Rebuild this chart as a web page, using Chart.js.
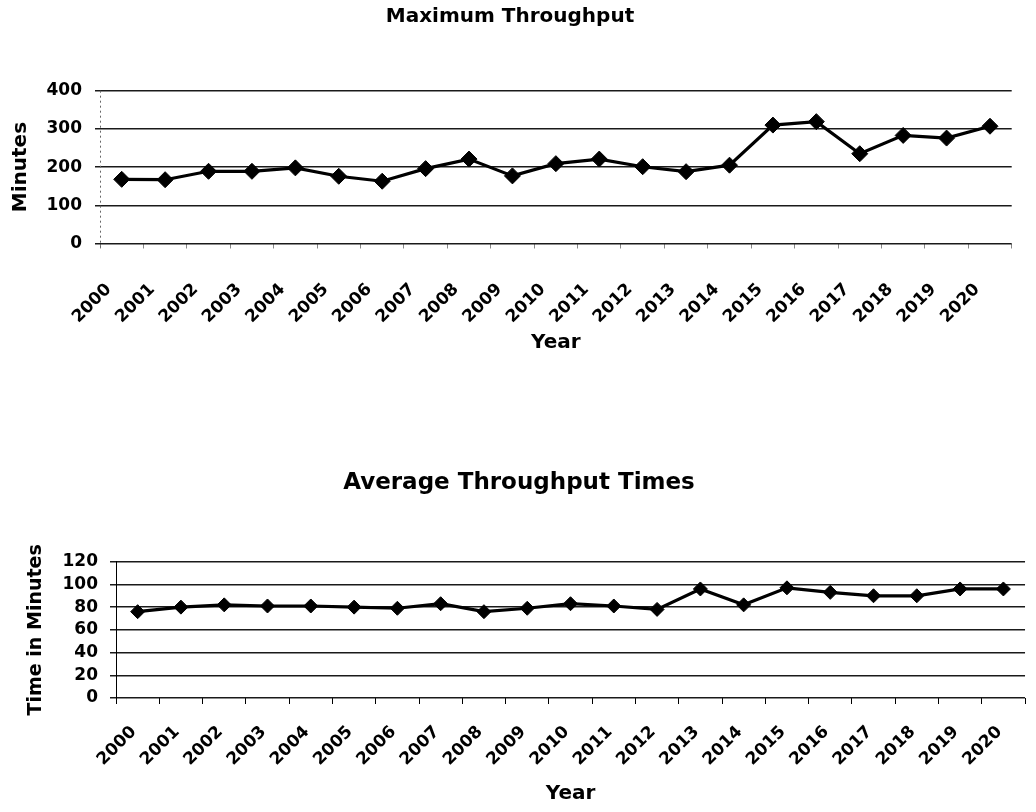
<!DOCTYPE html>
<html><head><meta charset="utf-8">
<script src="https://cdn.jsdelivr.net/npm/chart.js@4.4.1/dist/chart.umd.min.js"></script>
<style>
html,body{margin:0;padding:0;background:#fff;width:1036px;height:812px;overflow:hidden;}
canvas{position:absolute;left:0;}
#c1{top:0px;}
#c2{top:400px;}
</style></head><body>
<canvas id="c1" width="1036" height="370"></canvas>
<canvas id="c2" width="1036" height="412"></canvas>
<script>
const years = ['2000','2001','2002','2003','2004','2005','2006','2007','2008','2009','2010','2011','2012','2013','2014','2015','2016','2017','2018','2019','2020'];
const maxThroughput = [168, 167, 189, 189, 198, 176, 163, 196, 221, 177, 209, 221, 201, 188, 205, 310, 319, 235, 283, 276, 307];
const avgThroughputTimes = [76, 80, 82, 81, 81, 80, 79, 83, 76, 79, 83, 81, 78, 96, 82, 97, 93, 90, 90, 96, 96];
const maxTickValues = [0, 100, 200, 300, 400];
const avgTickValues = [0, 20, 40, 60, 80, 100, 120];

Chart.defaults.font.family = "'DejaVu Sans', sans-serif";
Chart.defaults.color = '#000';

// dotted vertical axis line at the left edge of the plot area
const dottedAxis = {
  id: 'dottedAxis',
  afterDatasetsDraw(chart, args, opts) {
    if (!opts.enabled) return;
    const { ctx, chartArea } = chart;
    ctx.save();
    ctx.strokeStyle = '#666';
    ctx.lineWidth = 1;
    ctx.setLineDash([2, 3]);
    ctx.beginPath();
    ctx.moveTo(chartArea.left + 0.5, chartArea.top);
    ctx.lineTo(chartArea.left + 0.5, chartArea.bottom + 6);
    ctx.stroke();
    ctx.restore();
  }
};

function makeChart(id, cfg) {
  return new Chart(document.getElementById(id), {
    type: 'line',
    data: {
      labels: years,
      datasets: [{
        data: cfg.values,
        borderColor: '#000',
        borderWidth: 3.2,
        pointStyle: 'rectRot',
        pointRadius: cfg.pointRadius,
        pointBackgroundColor: '#000',
        pointBorderColor: '#000',
        pointBorderWidth: 1,
        tension: 0,
        fill: false
      }]
    },
    plugins: [dottedAxis],
    options: {
      responsive: false,
      animation: false,
      devicePixelRatio: 1,
      layout: { padding: cfg.layoutPadding },
      plugins: {
        legend: { display: false },
        tooltip: { enabled: false },
        dottedAxis: { enabled: cfg.dotted },
        title: {
          display: true,
          text: cfg.title,
          color: '#000',
          font: { size: cfg.titleSize, weight: 'bold' },
          padding: cfg.titlePadding
        }
      },
      scales: {
        x: {
          type: 'category',
          offset: true,
          grid: { display: true, drawOnChartArea: false, offset: true, tickLength: cfg.xTickLen, color: cfg.xTickColor, lineWidth: 1 },
          border: { display: false },
          ticks: { font: { size: 17, weight: 'bold' }, color: '#000', minRotation: 45, maxRotation: 45, autoSkip: false, padding: cfg.xPad, labelOffset: cfg.xLabelOffset },
          title: { display: true, text: 'Year', color: '#000', font: { size: 20, weight: 'bold' }, padding: { top: 0, bottom: 0 } },
          afterFit: s => { s.height = cfg.xHeight; }
        },
        y: {
          min: cfg.ticks[0],
          max: cfg.ticks[cfg.ticks.length - 1],
          afterBuildTicks: s => { s.ticks = cfg.ticks.map(v => ({ value: v })); },
          grid: { color: '#1a1a1a', lineWidth: 1.5, tickLength: cfg.yTickLen },
          border: { display: !cfg.dotted, color: '#000', width: 1 },
          ticks: { font: { size: 17, weight: 'bold' }, color: '#000', padding: cfg.yPad, autoSkip: false },
          title: { display: true, text: cfg.yTitle, color: '#000', font: { size: cfg.yTitleSize, weight: 'bold' }, padding: { top: cfg.yTitlePad, bottom: 0 } },
          afterFit: s => { s.width = cfg.yWidth; }
        }
      }
    }
  });
}

makeChart('c1', {
  values: maxThroughput,
  ticks: maxTickValues,
  title: 'Maximum Throughput',
  titleSize: 20,
  titlePadding: { top: 5, bottom: 61.7 },
  layoutPadding: { left: 8.3, right: 24.3, top: 0, bottom: 15 },
  pointRadius: 8,
  dotted: true,
  xTickLen: 5, xTickColor: '#888', xPad: 31, xLabelOffset: -13, xHeight: 111.5,
  yTickLen: 5, yPad: 13, yWidth: 91.7,
  yTitle: 'Minutes', yTitleSize: 20, yTitlePad: 0.7
});

makeChart('c2', {
  values: avgThroughputTimes,
  ticks: avgTickValues,
  title: 'Average Throughput Times',
  titleSize: 23,
  titlePadding: { top: 68.9, bottom: 65.2 },
  layoutPadding: { left: 6, right: 4, top: 0, bottom: 6 },
  pointRadius: 7,
  dotted: false,
  xTickLen: 6, xTickColor: '#000', xPad: 18, xLabelOffset: -4, xHeight: 108,
  yTickLen: 6, yPad: 12, yWidth: 110,
  yTitle: 'Time in Minutes', yTitleSize: 19, yTitlePad: 18.6
});
</script>
</body></html>
